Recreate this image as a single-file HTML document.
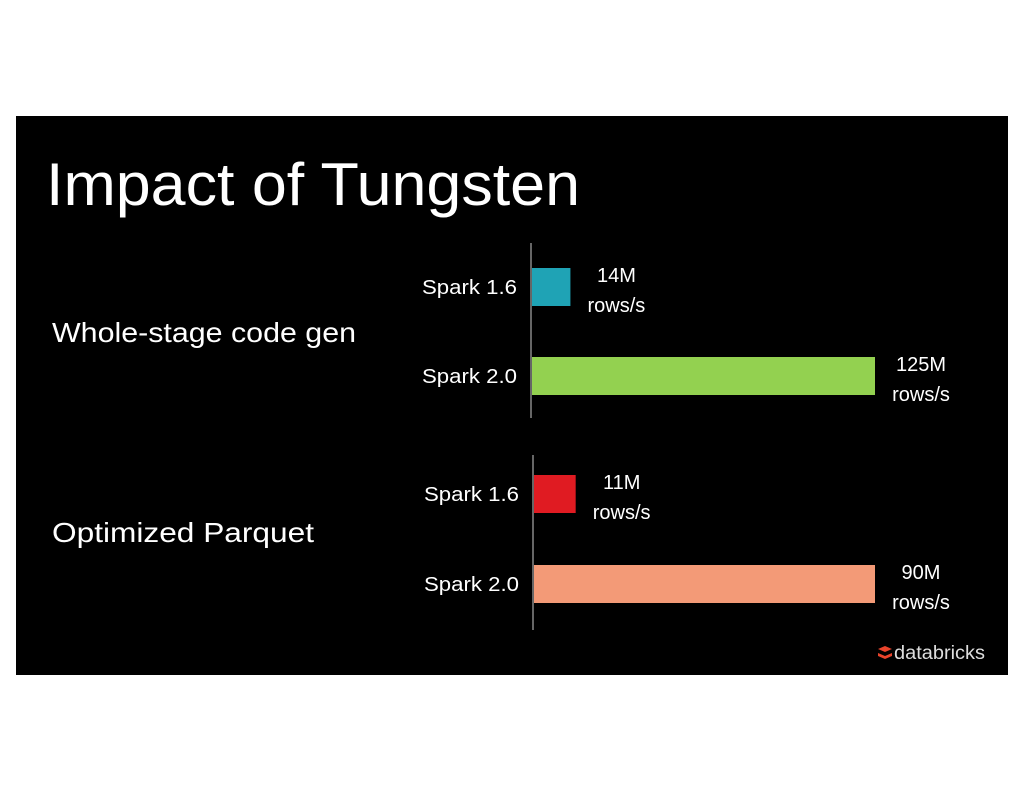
<!DOCTYPE html>
<html><head><meta charset="utf-8"><style>
body{margin:0;background:#fff;width:1024px;height:792px;overflow:hidden;font-family:"Liberation Sans",sans-serif}
#slide{position:absolute;left:16px;top:116px;width:992px;height:559px;background:#000}
</style></head><body>
<div id="slide"></div>
<svg id="chart" width="1024" height="792" style="position:absolute;left:0;top:0">
<text x="46" y="205" fill="#fff" font-size="60" textLength="534" lengthAdjust="spacingAndGlyphs">Impact of Tungsten</text>
<text x="52" y="342" fill="#fff" font-size="28" textLength="304" lengthAdjust="spacingAndGlyphs">Whole-stage code gen</text>
<text x="52" y="542" fill="#fff" font-size="28" textLength="262" lengthAdjust="spacingAndGlyphs">Optimized Parquet</text>
<g>
<path d="M878 649 l7 -3 l7 3 l-7 3z M878 653 l7 3 l7 -3 v3 l-7 3 l-7 -3z" fill="#e8432b"/>
<text x="894" y="659" fill="#ddd" font-size="19" textLength="91" lengthAdjust="spacingAndGlyphs" font-family="Liberation Sans, sans-serif">databricks</text>
</g>
<g id="bars"></g>
</svg>
<script>
const groups = ["Whole-stage code gen", "Optimized Parquet"];
const categories = ["Spark 1.6", "Spark 2.0"];
const codegenValues = [14, 125];
const parquetValues = [11, 90];
const valueLabels = [["14M", "125M"], ["11M", "90M"]];
const colors = [["#1fa3b5", "#93d150"], ["#e01b22", "#f39a77"]];

const ns = "http://www.w3.org/2000/svg";
const g = document.getElementById("bars");
function mk(tag, attrs){const e=document.createElementNS(ns,tag);for(const k in attrs)e.setAttribute(k,attrs[k]);g.appendChild(e);return e;}
const panels = [
  {vals: codegenValues, axisX: 531, top: 243, bottom: 418, rows: [287, 376], max: 125, width: 343},
  {vals: parquetValues, axisX: 533, top: 455, bottom: 630, rows: [494, 584], max: 90, width: 341}
];
panels.forEach((p, gi) => {
  const xs = v => p.axisX + 1 + v / p.max * p.width;
  const ax = mk("line", {x1:p.axisX, x2:p.axisX, y1:p.top, y2:p.bottom, stroke:"#888", "stroke-width":1.5});
  
  
  p.vals.forEach((v, i) => {
    const cy = p.rows[i];
    const r = mk("rect", {x:p.axisX+1, y:cy-19, width:xs(v)-p.axisX-1, height:38, fill:colors[gi][i]});
    
    
    const t = mk("text", {x:p.axisX-14, y:cy+7, fill:"#fff", "font-size":20, "text-anchor":"end", textLength:95, lengthAdjust:"spacingAndGlyphs"});
    t.textContent = categories[i];
    
    
    const lx = xs(v) + 46;
    const l1 = mk("text", {x:lx, y:cy-5, fill:"#fff", "font-size":20, "text-anchor":"middle"});
    l1.textContent = valueLabels[gi][i];
    
    
    const l2 = mk("text", {x:lx, y:cy+25, fill:"#fff", "font-size":20, "text-anchor":"middle"});
    l2.textContent = "rows/s";
    
    
  });
});
</script>
</body></html>
